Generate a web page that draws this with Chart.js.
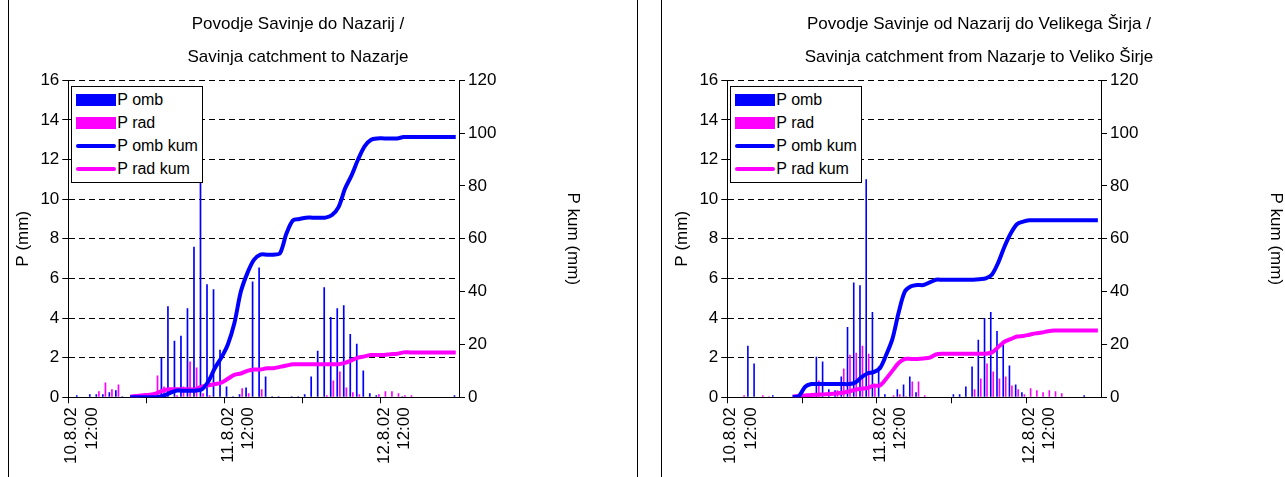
<!DOCTYPE html>
<html><head><meta charset="utf-8">
<script src="https://cdn.jsdelivr.net/npm/chart.js@4/dist/chart.umd.min.js"></script>
<style>
body{margin:0;background:#fff;overflow:hidden;font-family:"Liberation Sans",Arial,sans-serif}
.panel{position:absolute;top:-1px;width:628px;height:540px;border:1px solid #000;background:#fff}
.legend{position:absolute;border:1px solid #000;background:#fff;padding:1px 4px 2px 4px;font-size:16px;line-height:23px}
.legend div{display:flex;align-items:center}
.sw{display:inline-block;width:40px;margin-right:1px}
</style></head><body>
<div class="panel" style="left:8px"><canvas id="c1" width="628" height="540"></canvas><div class="legend" id="l1"></div></div>
<div class="panel" style="left:661px"><canvas id="c2" width="628" height="540"></canvas><div class="legend" id="l2"></div></div>
<script>
// hourly slots, 10.8.02 12:00 .. 12.8.02 23:00
var hours = [];
for (var i = 0; i < 60; i++) {
    var h = (12 + i) % 24, d = 10 + Math.floor((12 + i) / 24);
    hours.push(d + '.8.02 ' + (h < 10 ? '0' : '') + h + ':00');
}

// Povodje Savinje do Nazarij
var omb1 = [0,0.1,0,0.15,0.15,0.15,0.25,0.35,0.05,0, 0,0,0,0,2.0,4.6,2.85,3.1,4.5,7.6,
    13.6,5.7,5.45,2.4,0.55,0.05,0.15,0.5,5.85,6.55, 1.05,0.05,0.05,0,0.05,0.05,0.15,1.05,2.35,5.55,
    4.05,4.5,4.65,3.2,2.7,1.35,0.2,0.1,0,0, 0,0.05,0,0,0,0,0,0,0,0.1];
var rad1 = [0,0,0,0,0.3,0.75,0.4,0.65,0,0, 0,0,0,1.1,0.55,0,0.1,0.55,1.8,1.5,
    0.2,0.1,0,0,0,0,0.45,0.2,0,0.4, 0,0,0,0,0,0,0,0,0,0.1,
    0.85,1.3,0.5,0.25,0.15,0,0,0.15,0.3,0.3, 0.2,0.1,0.1,0,0,0,0,0,0,0];
var ombKum1 = [null,null,null,null,null,null,null,null,null,0, 0,0,0,0,0.5,1.5,2.5,2.5,2.5,2.5,
    3,6,11,15,20,28,40,47,52,54, 54,54,54.5,62,67,67.5,68,68,68,68,
    69,72,79,84,90,95,97.5,98,98,98, 98,98.5,98.5,98.5,98.5,98.5,98.5,98.5,98.5,98.5];
var radKum1 = [null,null,null,null,null,null,null,null,null,0.2, 0.5,0.8,1,1.5,2.5,3,3,3,3,3,
    4,4.5,5,5.5,7,8.5,9,10,10.5,10.5, 11,11,11.5,12,12.5,12.5,12.5,12.5,12.5,12.5,
    12.5,12.5,13,14,15,15.5,16,16,16,16.3, 16.5,17,17,17,17,17,17,17,17,17];

// Povodje Savinje od Nazarij do Velikega Širja
var omb2 = [0,0,0,2.6,1.7,0,0,0.1,0,0, 0,0,0,0,2.05,1.8,0.4,0.35,1.05,3.55,
    5.8,5.65,11.0,4.3,1.55,0.15,0,0.4,0.65,1.05, 0.25,0,0,0,0,0,0.15,0.15,0.55,1.55,
    2.9,4.0,4.3,3.35,2.8,1.6,0.65,0.25,0,0, 0,0,0,0,0,0,0,0.1,0,0];
var rad2 = [0,0,0.1,0,0,0.1,0.05,0,0,0, 0,0,0,0,0.85,0,0,0.35,1.45,2.15,
    2.25,2.6,2.2,0.55,0,0,0.1,0.15,0.05,0.8, 0.8,0.1,0,0,0,0,0,0,0,0.4,
    0.95,1.7,1.3,0.95,1.05,0.6,0.4,0.15,0.45,0.35, 0.25,0.35,0.3,0.2,0,0,0,0,0,0];
var ombKum2 = [null,null,null,null,null,null,null,null,null,null, 0,0.5,4,5,5,5,5,5,5,5,
    5.5,7.5,9,9.5,11,16,22,32,40,42, 42.5,42.5,43.5,44.5,44.5,44.5,44.5,44.5,44.5,44.5,
    44.7,45,46.5,51,57,62,65.5,66.5,67,67, 67,67,67,67,67,67,67,67,67,67];
var radKum2 = [null,null,null,null,null,null,null,null,null,null, 0.3,0.5,0.7,0.9,1,1.1,1.2,1.4,1.7,2.2,
    2.8,3.2,3.5,4.4,4.5,7,10,13,14.5,14.5, 14.5,14.7,15,16.2,16.5,16.5,16.5,16.5,16.5,16.5,
    16.5,16.5,17,19,21,22,23,23.2,23.7,24.2, 24.5,25,25.3,25.3,25.3,25.3,25.3,25.3,25.3,25.3];

var BLUE = '#0000ff', MAGENTA = '#ff00ff';
Chart.defaults.font.family = '"Liberation Sans", Arial, sans-serif';
Chart.defaults.font.size = 17;
Chart.defaults.color = '#000';

function makeChart(id, legendId, title, omb, rad, ombKum, radKum, padLeft, padRight, kumWidth)
{
    var chart = new Chart(document.getElementById(id), {
        data: {
            labels: hours,
            datasets: [
                {type: 'bar', label: 'P omb', data: omb, backgroundColor: BLUE, yAxisID: 'y',
                    barPercentage: 0.65, categoryPercentage: 0.8, order: 3},
                {type: 'bar', label: 'P rad', data: rad, backgroundColor: MAGENTA, yAxisID: 'y',
                    barPercentage: 0.65, categoryPercentage: 0.8, order: 4},
                {type: 'line', label: 'P omb kum', data: ombKum, borderColor: BLUE, borderWidth: 4,
                    pointRadius: 0, tension: 0.3, yAxisID: 'y2', order: 1},
                {type: 'line', label: 'P rad kum', data: radKum, borderColor: MAGENTA, borderWidth: 4,
                    pointRadius: 0, tension: 0.3, yAxisID: 'y2', order: 2}
            ]
        },
        options: {
            responsive: false,
            animation: false,
            layout: {padding: {left: padLeft, right: padRight, bottom: 72}},
            plugins: {
                legend: {display: false},
                tooltip: {enabled: false},
                title: {display: true, text: title,
                    font: {size: 17, weight: 'normal', lineHeight: 1.95},
                    padding: {top: 8, bottom: 6}}
            },
            scales: {
                x: {
                    offset: true,
                    grid: {drawOnChartArea: false, tickLength: 6,
                        color: function (c) { return c.index % 12 === 0 ? '#000' : 'rgba(0,0,0,0)'; }},
                    border: {color: '#000'},
                    ticks: {autoSkip: false, maxRotation: 90, minRotation: 90, padding: 4,
                        callback: function (v, i) {
                            return i % 24 === 0 ? hours[i].split(' ') : '';
                        }}
                },
                y: {
                    min: 0, max: 16,
                    ticks: {stepSize: 2},
                    title: {display: true, text: 'P (mm)', font: {size: 17}},
                    grid: {color: '#000', tickLength: 6, borderDash: [6, 4]},
                    border: {color: '#000', dash: [6, 4]}
                },
                y2: {
                    position: 'right',
                    min: 0, max: 120,
                    ticks: {stepSize: 20},
                    title: {display: true, text: 'P kum (mm)', font: {size: 17},
                        padding: {top: 4, bottom: 4}},
                    grid: {drawOnChartArea: false, color: '#000', tickLength: 6},
                    border: {color: '#000'},
                    afterFit: function (s) { s.width = kumWidth; }
                }
            }
        }
    });

    // legend inside the plot area
    var lg = document.getElementById(legendId);
    var area = chart.chartArea;
    lg.style.left = (area.left + 3) + 'px';
    lg.style.top = (area.top + 6) + 'px';
    chart.data.datasets.forEach(function (ds) {
        var row = document.createElement('div');
        var sw = document.createElement('span');
        sw.className = 'sw';
        if (ds.type === 'bar') {
            sw.style.height = '12px';
        } else {
            sw.style.height = '4px';
            sw.style.borderRadius = '2px';
        }
        sw.style.background = ds.type === 'bar' ? ds.backgroundColor : ds.borderColor;
        row.appendChild(sw);
        row.appendChild(document.createTextNode(ds.label));
        lg.appendChild(row);
    });
    return chart;
}

makeChart('c1', 'l1', ['Povodje Savinje do Nazarij /', 'Savinja catchment to Nazarje'],
    omb1, rad1, ombKum1, radKum1, 0, 50, 128);
makeChart('c2', 'l2', ['Povodje Savinje od Nazarij do Velikega Širja /', 'Savinja catchment from Nazarje to Veliko Širje'],
    omb2, rad2, ombKum2, radKum2, 6, 0, 189);
</script>
</body></html>
